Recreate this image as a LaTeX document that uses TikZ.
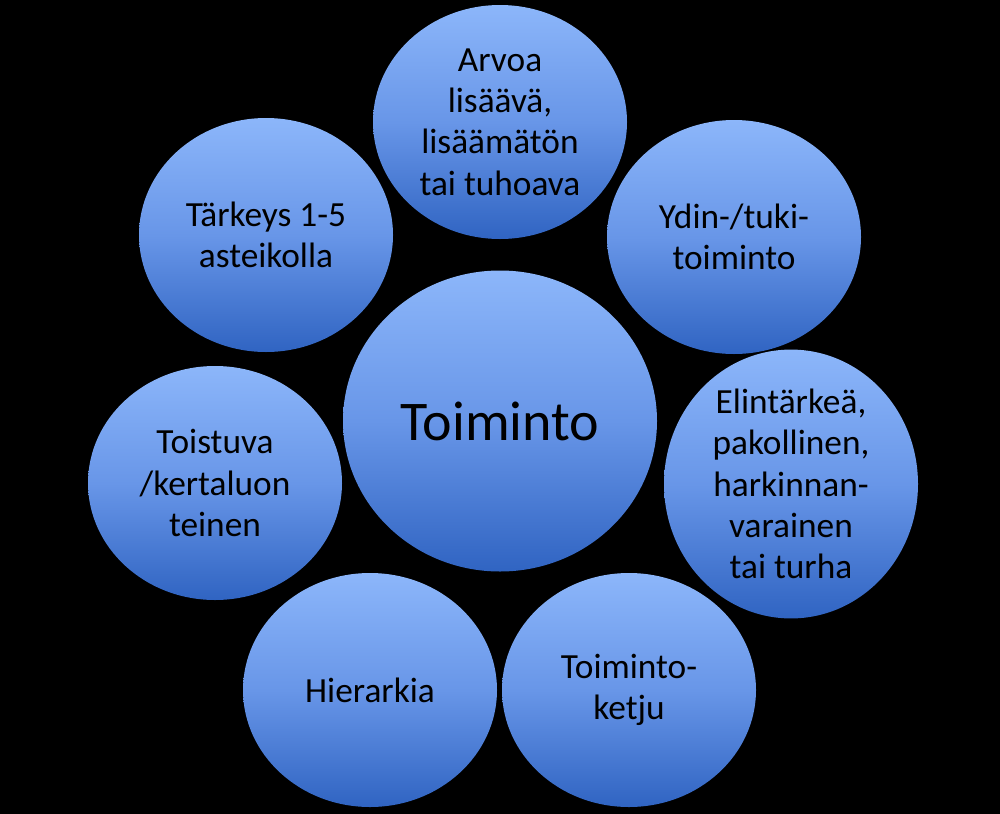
\documentclass[tikz,border=0pt]{standalone}
\usepackage{fontspec}
\setmainfont{Carlito}
\usepackage{tikz}
\usetikzlibrary{shapes.geometric}

\definecolor{vaalea}{RGB}{140,182,250}
\definecolor{keski}{RGB}{104,150,232}
\definecolor{tumma}{RGB}{48,100,194}

\begin{document}
\begin{tikzpicture}[x=0.75pt,y=-0.75pt,
    pallo/.style={ellipse, inner sep=0pt, minimum width=190.5pt, minimum height=175.5pt,
        top color=vaalea, bottom color=tumma, middle color=keski,
        align=center, font=\fontsize{26.5}{31}\selectfont},
    keskus/.style={pallo, minimum width=235.5pt, minimum height=225.75pt,
        font=\fontsize{42}{50}\selectfont}]
    \fill[black] (0,0) rectangle (1000,814);
    \node[keskus] (toiminto) at (500,421) {Toiminto};
    \node[pallo] (arvo) at (500,122) {Arvoa\\lisäävä,\\lisäämätön\\tai tuhoava};
    \node[pallo] (ydin) at (734,237) {Ydin-/tuki-\\toiminto};
    \node[pallo] (elin) at (791,484) {Elintärkeä,\\pakollinen,\\harkinnan-\\varainen\\tai turha};
    \node[pallo] (ketju) at (629,690) {Toiminto-\\ketju};
    \node[pallo] (hier) at (370,690) {Hierarkia};
    \node[pallo] (toisto) at (215,483) {Toistuva\\/kertaluon\\teinen};
    \node[pallo] (tarkeys) at (266,235) {Tärkeys 1-5\\asteikolla};
\end{tikzpicture}
\end{document}
